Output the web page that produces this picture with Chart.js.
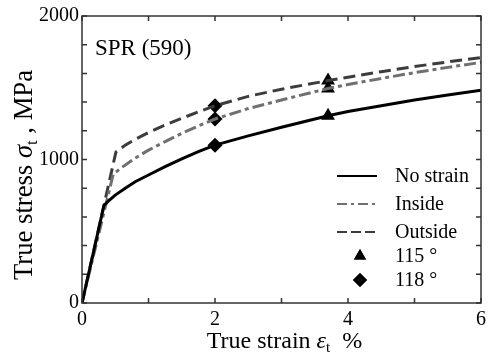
<!DOCTYPE html>
<html>
<head>
<meta charset="utf-8">
<script src="https://cdn.jsdelivr.net/npm/chart.js@4.4.1/dist/chart.umd.min.js"></script>
<style>
  body { margin: 0; background: #fff; }
</style>
</head>
<body>
<canvas id="ssChart" width="491" height="353"></canvas>
<script>
// true strain (%) / true stress (MPa)
const strainNo = [0, 0.33, 0.4, 0.5, 0.65, 0.8, 1.0, 1.25, 1.5, 1.75, 2.0, 2.5, 3.0, 3.7, 4.0, 4.5, 5.0, 5.5, 6.0];
const stressNo = [0, 680, 712, 752, 800, 845, 892, 950, 1005, 1055, 1100, 1165, 1225, 1305, 1335, 1375, 1415, 1450, 1482];

const strainIn = [0, 0.47, 0.6, 0.8, 1.0, 1.25, 1.5, 1.75, 2.0, 2.5, 3.0, 3.7, 4.0, 4.5, 5.0, 5.5, 6.0];
const stressIn = [0, 898, 945, 1010, 1065, 1125, 1182, 1234, 1282, 1355, 1415, 1495, 1522, 1565, 1605, 1642, 1677];

const strainOut = [0, 0.51, 0.65, 0.8, 1.0, 1.25, 1.5, 1.75, 2.0, 2.5, 3.0, 3.7, 4.0, 4.5, 5.0, 5.5, 6.0];
const stressOut = [0, 1052, 1100, 1140, 1188, 1240, 1287, 1332, 1375, 1440, 1490, 1550, 1573, 1612, 1648, 1680, 1710];

const strain115 = [3.7, 3.7, 3.7];
const stress115 = [1305, 1495, 1550];
const strain118 = [2, 2, 2];
const stress118 = [1100, 1282, 1375];

const xTickLabels = ['0', '2', '4', '6'];
const yTickLabels = ['0', '1000', '2000'];

const FONT = '"Liberation Serif", "Times New Roman", serif';
const pts = (xs, ys) => xs.map((x, i) => ({ x: x, y: ys[i] }));

const curveStyle = {
  showLine: true, pointRadius: 0, borderWidth: 3, tension: 0, fill: false
};

// frame with inward ticks on all four sides
const framePlugin = {
  id: 'frame',
  afterDatasetsDraw(chart) {
    const { ctx, chartArea: a, scales } = chart;
    const x = scales.x, y = scales.y;
    ctx.save();
    ctx.strokeStyle = '#333';
    ctx.lineWidth = 1.5;
    ctx.strokeRect(a.left, a.top, a.right - a.left, a.bottom - a.top);
    ctx.beginPath();
    x.ticks.forEach(t => {
      const px = x.getPixelForValue(t.value);
      ctx.moveTo(px, a.bottom); ctx.lineTo(px, a.bottom - 5);
      ctx.moveTo(px, a.top); ctx.lineTo(px, a.top + 5);
    });
    y.ticks.forEach(t => {
      const py = y.getPixelForValue(t.value);
      ctx.moveTo(a.left, py); ctx.lineTo(a.left + 5, py);
      ctx.moveTo(a.right, py); ctx.lineTo(a.right - 5, py);
    });
    ctx.stroke();
    ctx.restore();
  }
};

function drawPieces(ctx, pieces, x0, y0) {
  let x = x0;
  pieces.forEach(p => {
    ctx.font = p.font;
    ctx.fillText(p.text, x, y0 + (p.dy || 0));
    x += ctx.measureText(p.text).width;
  });
}
function piecesWidth(ctx, pieces) {
  let w = 0;
  pieces.forEach(p => { ctx.font = p.font; w += ctx.measureText(p.text).width; });
  return w;
}

const titlePlugin = {
  id: 'titles',
  afterDraw(chart) {
    const { ctx, chartArea: a } = chart;
    ctx.save();
    ctx.fillStyle = '#000';
    ctx.textBaseline = 'alphabetic';
    ctx.textAlign = 'left';

    // x axis title
    const xt = [
      { text: 'True strain ', font: '24px ' + FONT },
      { text: 'ε', font: 'italic 24px ' + FONT },
      { text: 't', font: '15px ' + FONT, dy: 4 },
      { text: '  %', font: '24px ' + FONT }
    ];
    const xw = piecesWidth(ctx, xt);
    drawPieces(ctx, xt, (a.left + a.right) / 2 + 3 - xw / 2, 348);

    // y axis title, squeezed along its length like the original
    const yt = [
      { text: 'True stress ', font: '27px ' + FONT },
      { text: 'σ', font: 'italic 27px ' + FONT },
      { text: 't', font: '17px ' + FONT, dy: 5 },
      { text: ' , MPa', font: '27px ' + FONT }
    ];
    const yw = piecesWidth(ctx, yt);
    ctx.translate(32, 175);
    ctx.rotate(-Math.PI / 2);
    ctx.scale(210 / yw, 1);
    drawPieces(ctx, yt, -yw / 2, 0);
    ctx.restore();

    // label in the corner
    ctx.save();
    ctx.fillStyle = '#000';
    ctx.font = '23px ' + FONT;
    ctx.textBaseline = 'alphabetic';
    ctx.fillText('SPR (590)', 95, 55);
    ctx.restore();
  }
};

// legend inside the lower right of the plot
const legendPlugin = {
  id: 'insideLegend',
  afterDraw(chart) {
    const ctx = chart.ctx;
    const rows = chart.data.datasets;
    const rowY = [176, 204, 232, 256, 280];
    ctx.save();
    ctx.font = '20px ' + FONT;
    ctx.fillStyle = '#000';
    ctx.textBaseline = 'middle';
    rows.forEach((ds, i) => {
      const yy = rowY[i];
      if (ds.showLine) {
        ctx.beginPath();
        ctx.strokeStyle = ds.borderColor;
        ctx.lineWidth = 2;
        ctx.setLineDash(ds.legendDash || []);
        ctx.moveTo(337, yy); ctx.lineTo(377, yy);
        ctx.stroke();
        ctx.setLineDash([]);
      } else {
        Chart.helpers.drawPoint(ctx, {
          pointStyle: ds.pointStyle, radius: ds.legendRadius, borderWidth: 0
        }, 360, yy);
        ctx.fillStyle = '#000';
        ctx.fill();
      }
      ctx.fillStyle = '#000';
      ctx.fillText(ds.label, 395, yy + 1);
    });
    ctx.restore();
  }
};

function makeChart() {
  new Chart(document.getElementById('ssChart'), {
    type: 'scatter',
    data: {
      datasets: [
        Object.assign({}, curveStyle, {
          label: 'No strain', data: pts(strainNo, stressNo),
          borderColor: '#000', legendDash: []
        }),
        Object.assign({}, curveStyle, {
          label: 'Inside', data: pts(strainIn, stressIn),
          borderColor: '#707070', borderDash: [12, 4, 4, 4], legendDash: [10, 4, 3, 4]
        }),
        Object.assign({}, curveStyle, {
          label: 'Outside', data: pts(strainOut, stressOut),
          borderColor: '#3c3c3c', borderDash: [12, 6], legendDash: [10, 4]
        }),
        {
          label: '115 °', data: pts(strain115, stress115), showLine: false,
          pointStyle: 'triangle', pointRadius: 8, legendRadius: 7,
          backgroundColor: '#000', borderColor: '#000', borderWidth: 0
        },
        {
          label: '118 °', data: pts(strain118, stress118), showLine: false,
          pointStyle: 'rectRot', pointRadius: 7.5, legendRadius: 7,
          backgroundColor: '#000', borderColor: '#000', borderWidth: 0
        }
      ]
    },
    options: {
      responsive: false,
      animation: false,
      devicePixelRatio: 1,
      layout: { padding: { top: 16, right: 6, left: 0, bottom: 0 } },
      plugins: { legend: { display: false }, tooltip: { enabled: false } },
      scales: {
        x: {
          type: 'linear', min: 0, max: 6,
          grid: { display: false, drawTicks: false },
          border: { display: false },
          ticks: {
            stepSize: 1, autoSkip: false, maxRotation: 0, padding: 5,
            color: '#000', font: { family: FONT, size: 20 },
            callback: v => xTickLabels.includes(String(v)) ? String(v) : ''
          },
          afterFit: s => { s.height = 50; }
        },
        y: {
          type: 'linear', min: 0, max: 2000,
          grid: { display: false, drawTicks: false },
          border: { display: false },
          ticks: {
            stepSize: 200, autoSkip: false, padding: 3,
            color: '#000', font: { family: FONT, size: 20 },
            callback: v => yTickLabels.includes(String(v)) ? String(v) : ''
          },
          afterFit: s => { s.width = 82; }
        }
      }
    },
    plugins: [framePlugin, titlePlugin, legendPlugin]
  });
}

document.fonts.load('20px "Liberation Serif"').then(makeChart, makeChart);
</script>
</body>
</html>
